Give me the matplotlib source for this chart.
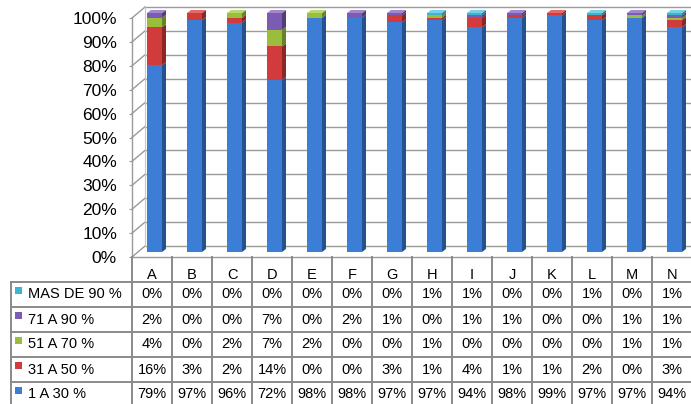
import matplotlib
matplotlib.use("Agg")
import matplotlib.pyplot as plt
from matplotlib.patches import Polygon, Rectangle

plt.rcParams['font.family'] = ['Liberation Sans', 'DejaVu Sans']

# ---- data -------------------------------------------------------------
categories = ["A", "B", "C", "D", "E", "F", "G", "H", "I", "J", "K", "L", "M", "N"]
series_names = ["1 A 30 %", "31 A 50 %", "51 A 70 %", "71 A 90 %", "MAS DE 90 %"]
s_1_30 = [79, 97, 96, 72, 98, 98, 97, 97, 94, 98, 99, 97, 97, 94]
s_31_50 = [16, 3, 2, 14, 0, 0, 3, 1, 4, 1, 1, 2, 0, 3]
s_51_70 = [4, 0, 2, 7, 2, 0, 0, 1, 0, 0, 0, 0, 1, 1]
s_71_90 = [2, 0, 0, 7, 0, 2, 1, 0, 1, 1, 0, 0, 1, 1]
s_mas_90 = [0, 0, 0, 0, 0, 0, 0, 1, 1, 0, 0, 1, 0, 1]
y_ticks = [0.0, 0.1, 0.2, 0.3, 0.4, 0.5, 0.6, 0.7, 0.8, 0.9, 1.0]
y_tick_labels = ["0%", "10%", "20%", "30%", "40%", "50%", "60%", "70%", "80%", "90%", "100%"]

series_values = [s_1_30, s_31_50, s_51_70, s_71_90, s_mas_90]
face_colors = ["#3C7DD6", "#D23B3B", "#9BBD3C", "#7C5CB2", "#3FB3D2"]
side_colors = ["#24528F", "#8E2626", "#678229", "#523C7A", "#2A7A91"]
top_colors = ["#6FA0E6", "#E26A6A", "#BAD76A", "#A287CF", "#78CFE6"]

W, H = 691, 404
fig = plt.figure(figsize=(W / 100, H / 100), dpi=100)

# plot area (front plane): x 132..692 px, y 257..18 px
x_left, x_right = 132, 692
y_bot, y_top = 257, 18
n = len(categories)
ax = fig.add_axes([x_left / W, (H - y_bot) / H, (x_right - x_left) / W, (y_bot - y_top) / H])
ax.set_xlim(0, n)
ax.set_ylim(0, 1)
for s in ax.spines.values():
    s.set_visible(False)
ax.set_xticks([])
ax.set_yticks(y_ticks, y_tick_labels)
ax.tick_params(axis='y', length=2.2, width=0.8, color='#999999', pad=8.6, labelsize=12.5)

px_x = (x_right - x_left) / n        # pixels per category
px_y = (y_bot - y_top)               # pixels per unit of y

# depth of the 3-D box
dx = 13 / px_x
dy = 11 / px_y
grid_c = '#9a9a9a'
for t in y_ticks:
    ax.plot([dx, n + dx], [t + dy, t + dy], color=grid_c, lw=1.0, clip_on=False, zorder=1)
    ax.plot([0, dx], [t, t + dy], color=grid_c, lw=1.0, clip_on=False, zorder=1)
ax.plot([0, 0], [0, 1], color=grid_c, lw=1.0, clip_on=False, zorder=1)
ax.plot([dx, dx], [dy, 1 + dy], color='#c8c8c8', lw=0.8, clip_on=False, zorder=1)
ax.plot([0, n], [0, 0], color=grid_c, lw=1.0, clip_on=False, zorder=1)

# 100 % stacked columns drawn as prisms
bar_l = 15 / px_x
bar_w = 15 / px_x
lift = 5 / px_y
sx = 4 / px_x
sy = 3 / px_y
for i in range(n):
    col = [sv[i] for sv in series_values]
    total = float(sum(col))
    base = 0.0
    x0 = i + bar_l
    x1 = x0 + bar_w
    top_idx = max(k for k, v in enumerate(col) if v > 0)
    for k, v in enumerate(col):
        if v <= 0:
            continue
        h = v / total
        yb = base + lift
        yt = base + h + lift
        ax.add_patch(Rectangle((x0, yb), bar_w, h, facecolor=face_colors[k],
                               edgecolor='none', clip_on=False, zorder=3))
        ax.add_patch(Polygon([(x1, yb), (x1 + sx, yb + sy), (x1 + sx, yt + sy), (x1, yt)],
                             closed=True, facecolor=side_colors[k], edgecolor='none',
                             clip_on=False, zorder=3))
        if k == top_idx:
            ax.add_patch(Polygon([(x0, yt), (x1, yt), (x1 + sx, yt + sy), (x0 + sx, yt + sy)],
                                 closed=True, facecolor=top_colors[k], edgecolor='none',
                                 clip_on=False, zorder=3))
        base += h

# ---- data table -------------------------------------------------------
row_h = 25
tab_top = y_bot
tax = fig.add_axes([0, 0, 1, (H - tab_top) / H])
tax.set_xlim(-x_left / px_x, (W - x_left) / px_x)
tax.set_ylim((H - tab_top) / row_h, 0)
tax.axis('off')
line_c = '#8a8a8a'
lab_l = (11 - x_left) / px_x
n_rows = len(series_names)
fs = 10.5

# header row: category names with separators
for j in range(n + 1):
    tax.plot([j, j], [0, 1], color=line_c, lw=1.4, clip_on=False)
for j, c in enumerate(categories):
    tax.text(j + 0.5, 0.72, c, ha='center', va='center', fontsize=fs)

# body rows, top row is the highest band
for j in range(n + 1):
    tax.plot([j, j], [1, n_rows + 1], color=line_c, lw=1.4, clip_on=False)
tax.plot([lab_l, lab_l], [1, n_rows + 1], color=line_c, lw=1.4, clip_on=False)
for r in range(n_rows + 1):
    tax.plot([lab_l, n], [1 + r, 1 + r], color=line_c, lw=1.4, clip_on=False)

key_x = (15 - x_left) / px_x
key_w = 7 / px_x
for r in range(n_rows):
    k = n_rows - 1 - r
    yc = 1 + r + 0.5
    tax.add_patch(Rectangle((key_x, 1 + r + 0.2), key_w, 0.28, facecolor=face_colors[k],
                            edgecolor='none'))
    tax.text((28 - x_left) / px_x, yc, series_names[k], ha='left', va='center', fontsize=fs)
    for j in range(n):
        tax.text(j + 0.5, yc, f"{series_values[k][j]}%", ha='center', va='center', fontsize=fs)

fig.savefig("out.png", dpi=100)
